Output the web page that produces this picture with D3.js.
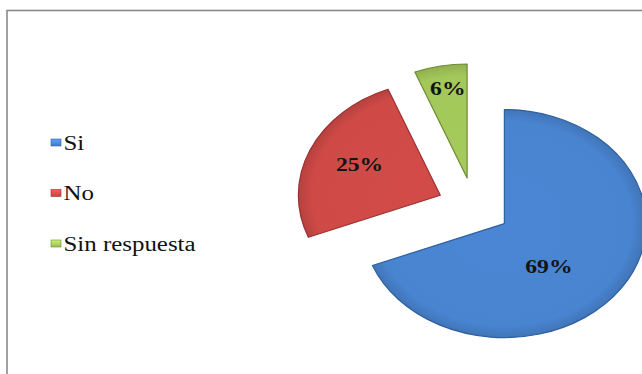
<!DOCTYPE html>
<html>
<head>
<meta charset="utf-8">
<script src="https://cdn.jsdelivr.net/npm/d3@7/dist/d3.min.js"></script>
<style>
  html, body { margin: 0; padding: 0; background: #fff; }
  svg { display: block; }
</style>
</head>
<body>
<svg id="chart" width="642" height="374"></svg>
<script>
// Survey answers, in percent
const categories = ["Si", "No", "Sin respuesta"];
const percents = [69, 25, 6];
const labels = ["69%", "25%", "6%"];
const sliceColors = ["#4984D0", "#CF4A47", "#A3C75A"];
const edgeColors = ["#2F5F9E", "#983230", "#6E8A35"];

// Layout
const W = 642, H = 374;
const cx = 474, cy = 207;      // pie centre
const r = 114;                 // vertical radius
const sx = 1.245;              // horizontal stretch of the plot area
const explode = 29.5;          // offset of every slice from the centre
const labelRadius = [0.49, 0.63, 0.80];   // fraction of r from slice apex
const labelTurn = [16, 2, 1];              // degrees added to mid-angle
const serif = "'Liberation Serif', 'Times New Roman', serif";

const svg = d3.select("#chart");

// frame of the chart area
svg.append("rect")
  .attr("x", 7).attr("y", 10.5)
  .attr("width", W + 40).attr("height", H + 40)
  .attr("fill", "none")
  .attr("stroke", "#8a8a8a")
  .attr("stroke-width", 1.6);

const color = d3.scaleOrdinal().domain(categories).range(sliceColors);
const edge = d3.scaleOrdinal().domain(categories).range(edgeColors);

const pie = d3.pie().sort(null).value(d => d.value).startAngle(0).endAngle(2 * Math.PI);
const arcs = pie(categories.map((c, i) => ({ name: c, value: percents[i], label: labels[i] })));
const arc = d3.arc().innerRadius(0).outerRadius(r);

const defs = svg.append("defs");
arcs.forEach((a, i) => {
  const g = defs.append("radialGradient")
    .attr("id", "grad" + i)
    .attr("gradientUnits", "userSpaceOnUse")
    .attr("cx", 0).attr("cy", 0).attr("r", r);
  const base = d3.color(color(a.data.name));
  g.append("stop").attr("offset", "0%").attr("stop-color", base.brighter(0.05));
  g.append("stop").attr("offset", "90%").attr("stop-color", base);
  g.append("stop").attr("offset", "100%").attr("stop-color", base.darker(0.35));
});

const plot = svg.append("g")
  .attr("transform", `translate(${cx},${cy}) scale(${sx},1)`);

const mid = a => (a.startAngle + a.endAngle) / 2;

plot.selectAll("path")
  .data(arcs)
  .join("path")
  .attr("transform", a => `translate(${explode * Math.sin(mid(a))},${-explode * Math.cos(mid(a))})`)
  .attr("d", arc)
  .attr("fill", (a, i) => `url(#grad${i})`)
  .attr("stroke", a => edge(a.data.name))
  .attr("stroke-width", 1.2)
  .attr("vector-effect", "non-scaling-stroke")
  .attr("stroke-linejoin", "round");

// percentage labels, placed from each exploded slice's apex
svg.append("g").selectAll("text")
  .data(arcs)
  .join("text")
  .attr("transform", (a, i) => {
    const ang = mid(a) + labelTurn[i] * Math.PI / 180;
    const apexX = explode * Math.sin(mid(a));
    const apexY = -explode * Math.cos(mid(a));
    const x = cx + sx * (apexX + labelRadius[i] * r * Math.sin(ang));
    const y = cy + (apexY - labelRadius[i] * r * Math.cos(ang));
    return `translate(${x},${y}) scale(${sx},1)`;
  })
  .attr("text-anchor", "middle")
  .attr("dy", "0.34em")
  .attr("font-family", serif)
  .attr("font-weight", "bold")
  .attr("font-size", 19)
  .attr("fill", "#141414")
  .text(a => a.data.label);

// legend
const legendY = d3.scalePoint().domain(categories).range([149.5, 250.5]);
const legend = svg.append("g").selectAll("g")
  .data(categories)
  .join("g")
  .attr("transform", c => `translate(51,${legendY(c)})`);

categories.forEach((c, i) => {
  const lg = defs.append("linearGradient")
    .attr("id", "lg" + i).attr("x1", 0).attr("y1", 0).attr("x2", 0).attr("y2", 1);
  const base = d3.color(sliceColors[i]);
  lg.append("stop").attr("offset", "0%").attr("stop-color", base.brighter(0.6));
  lg.append("stop").attr("offset", "100%").attr("stop-color", base.darker(0.2));
});

legend.append("rect")
  .attr("x", 0).attr("y", -10.5)
  .attr("width", 10).attr("height", 7)
  .attr("fill", (c, i) => `url(#lg${i})`)
  .attr("stroke", c => edge(c))
  .attr("stroke-width", 0.6);

legend.append("text")
  .attr("transform", `translate(12.5,0) scale(${sx},1)`)
  .attr("font-family", serif)
  .attr("font-size", 20)
  .attr("fill", "#111")
  .text(c => c);
</script>
</body>
</html>
